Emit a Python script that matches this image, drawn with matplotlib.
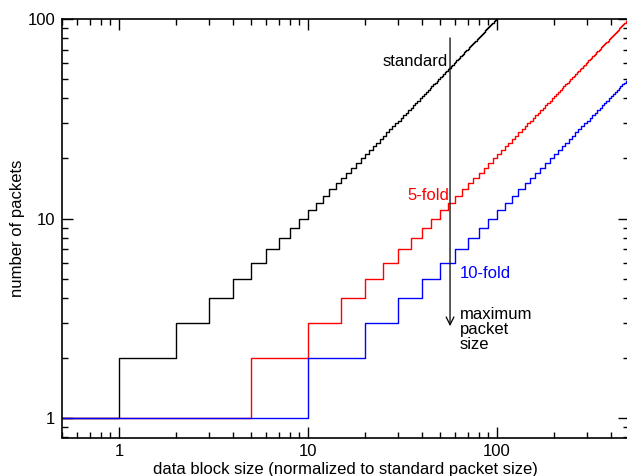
import numpy as np
import matplotlib.pyplot as plt
from matplotlib.ticker import LogLocator, NullFormatter, FixedLocator

plt.rcParams['font.family'] = ['Liberation Sans', 'DejaVu Sans']

# maximale pakkestorrelse relativt til standard
pakke_faktor = [1, 5, 10]
farger = ['black', 'red', 'blue']
etiketter = ['standard', '5-fold', '10-fold']
x_min, x_max = 0.5, 500
grense_x = 56.5  # posisjon for pilen "maximum packet size"

fig = plt.figure(figsize=(6.27, 4.76), dpi=100)
ax = fig.add_axes([62 / 627, 1 - 437.5 / 476, (629 - 62) / 627, (437.5 - 19) / 476])

# trappekurver: antall pakker = floor(blokk / faktor) + 1
for faktor, farge in zip(pakke_faktor, farger):
    sprang = np.arange(faktor, x_max + faktor, faktor, dtype=float)
    xs = np.concatenate([[x_min], sprang[sprang < x_max], [x_max]])
    ys = np.floor(xs / faktor) + 1
    ys[-1] = ys[-2]
    ax.step(xs, ys, where='post', color=farge, lw=1.0)

ax.set_xscale('log')
ax.set_yscale('log')
ax.set_xlim(x_min, x_max)
ax.set_ylim(0.8, 100)

ax.xaxis.set_major_locator(FixedLocator([1, 10, 100]))
ax.yaxis.set_major_locator(FixedLocator([1, 10, 100]))
ax.set_xticklabels(['1', '10', '100'])
ax.set_yticklabels(['1', '10', '100'])
ax.xaxis.set_minor_locator(LogLocator(base=10, subs=np.arange(2, 10)))
ax.yaxis.set_minor_locator(LogLocator(base=10, subs=np.arange(2, 10)))
ax.xaxis.set_minor_formatter(NullFormatter())
ax.yaxis.set_minor_formatter(NullFormatter())
ax.tick_params(which='both', direction='in', top=True, right=True, labelsize=12, width=1)
ax.tick_params(which='major', length=8, pad=5)
ax.tick_params(which='minor', length=4.5)
for s in ax.spines.values():
    s.set_linewidth(1.2)

ax.set_xlabel('data block size (normalized to standard packet size)', fontsize=12, labelpad=2)
ax.set_ylabel('number of packets', fontsize=12, labelpad=2)

# pil for maksimal pakkestorrelse
ax.annotate('', xy=(grense_x, 2.8), xytext=(grense_x, 83),
            arrowprops=dict(arrowstyle='->', color='black', lw=0.9,
                            mutation_scale=14))
ax.text(grense_x * 0.97, 61, 'standard', color='black', fontsize=12,
        ha='right', va='center')
ax.text(grense_x * 0.985, 13.0, '5-fold', color='red', fontsize=12,
        ha='right', va='center')
ax.text(grense_x * 1.12, 5.3, '10-fold', color='blue', fontsize=12,
        ha='left', va='center')
ax.text(grense_x * 1.13, 3.6, 'maximum\npacket\nsize', color='black', fontsize=12,
        ha='left', va='top', linespacing=1.0)

fig.savefig('out.png', dpi=100)
